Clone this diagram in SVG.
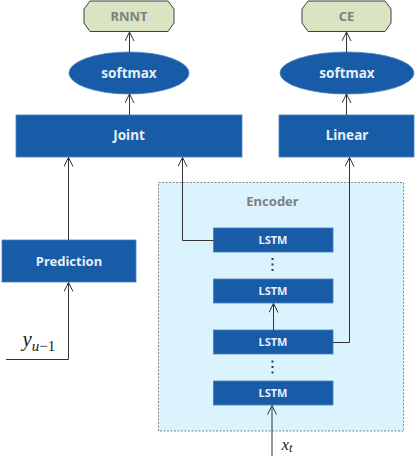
<svg xmlns="http://www.w3.org/2000/svg" width="415" height="468" viewBox="0 0 415 468">
<defs>
<marker id="arr" markerWidth="12" markerHeight="12" refX="9" refY="5" orient="auto" markerUnits="userSpaceOnUse">
<path d="M0,0.5 L9,5 L0,9.5" fill="none" stroke="#333" stroke-width="1"/>
</marker>
<style>
.blk{fill:#185CA8;stroke:#4a7fc0;stroke-width:0.8}
.hex{fill:#D8E4C2;stroke:#404040;stroke-width:1}
.t{font-family:"Noto Sans","DejaVu Sans",sans-serif;font-weight:bold;text-anchor:middle;fill:#E6EEF8}
.g{fill:#808080}
.c{fill:none;stroke:#333;stroke-width:1}
.m{font-family:"Liberation Serif",serif;font-style:italic;fill:#222}
.dot{fill:#1F3A6B}
</style>
</defs>
<rect width="415" height="468" fill="#fff"/>
<g id="encoder">
<rect x="158.5" y="182.5" width="245" height="248.5" fill="#DBF3FC" stroke="#888" stroke-width="1" stroke-dasharray="2,1.5"/>
<text class="t g" x="272.5" y="206" font-size="13">Encoder</text>
</g>
<g id="rnnt">
<polygon class="hex" points="90,1 168,1 174,9 174,23 168,31.5 90,31.5 84,23 84,9"/>
<text class="t g" x="129" y="20.5" font-size="13">RNNT</text>
</g>
<g id="ce">
<polygon class="hex" points="308,1 385,1 391,9 391,23 385,31.5 308,31.5 302,23 302,9"/>
<text class="t g" x="346.5" y="20.5" font-size="13">CE</text>
</g>
<g id="softmax1">
<ellipse class="blk" cx="129" cy="73" rx="60" ry="21"/>
<text class="t" x="129" y="77.5" font-size="13.5">softmax</text>
</g>
<g id="softmax2">
<ellipse class="blk" cx="347" cy="73" rx="67" ry="21"/>
<text class="t" x="347" y="77.5" font-size="13.5">softmax</text>
</g>
<g id="joint">
<rect class="blk" x="16" y="115" width="226" height="42"/>
<text class="t" x="129" y="139.5" font-size="13.5">Joint</text>
</g>
<g id="linear">
<rect class="blk" x="279" y="115" width="135" height="42"/>
<text class="t" x="347" y="139.5" font-size="13.5">Linear</text>
</g>
<g id="prediction">
<rect class="blk" x="2" y="240" width="134" height="42"/>
<text class="t" x="69" y="265.5" font-size="13">Prediction</text>
</g>
<g id="lstm1">
<rect class="blk" x="213.5" y="228" width="119.5" height="24"/>
<text class="t" x="273" y="244" font-size="11">LSTM</text>
</g>
<g id="lstm2">
<rect class="blk" x="213.5" y="279" width="119.5" height="24"/>
<text class="t" x="273" y="295" font-size="11">LSTM</text>
</g>
<g id="lstm3">
<rect class="blk" x="213.5" y="330" width="119.5" height="24"/>
<text class="t" x="273" y="346" font-size="11">LSTM</text>
</g>
<g id="lstm4">
<rect class="blk" x="213.5" y="381" width="119.5" height="24"/>
<text class="t" x="273" y="397" font-size="11">LSTM</text>
</g>
<g id="dots">
<rect class="dot" x="271.5" y="258" width="2" height="2"/>
<rect class="dot" x="271.5" y="263.5" width="2" height="2"/>
<rect class="dot" x="271.5" y="269" width="2" height="2"/>
<rect class="dot" x="271.5" y="360.5" width="2" height="2"/>
<rect class="dot" x="271.5" y="366" width="2" height="2"/>
<rect class="dot" x="271.5" y="371.5" width="2" height="2"/>
</g>
<g id="connectors">
<path class="c" d="M129.5,52 V32" marker-end="url(#arr)"/>
<path class="c" d="M346.5,52 V32" marker-end="url(#arr)"/>
<path class="c" d="M129.5,115 V94" marker-end="url(#arr)"/>
<path class="c" d="M346.5,115 V94" marker-end="url(#arr)"/>
<path class="c" d="M68.5,240 V157.5" marker-end="url(#arr)"/>
<path class="c" d="M213.5,240.5 H182.5 V157.5" marker-end="url(#arr)"/>
<path class="c" d="M333,342.5 H349.5 V157.5" marker-end="url(#arr)"/>
<path class="c" d="M273.5,330 V303.5" marker-end="url(#arr)"/>
<path class="c" d="M6,359.5 H68.5 V282.5" marker-end="url(#arr)"/>
<path class="c" d="M272,456 V405.5" marker-end="url(#arr)"/>
</g>
<g id="labels">
<text class="m" x="22.5" y="346" font-size="21">y<tspan font-size="15" dy="4.5">u</tspan><tspan font-size="15" font-style="normal">−1</tspan></text>
<text class="m" x="281.5" y="449.5" font-size="17">x<tspan font-size="12.5" dy="2.5">t</tspan></text>
</g>
</svg>
